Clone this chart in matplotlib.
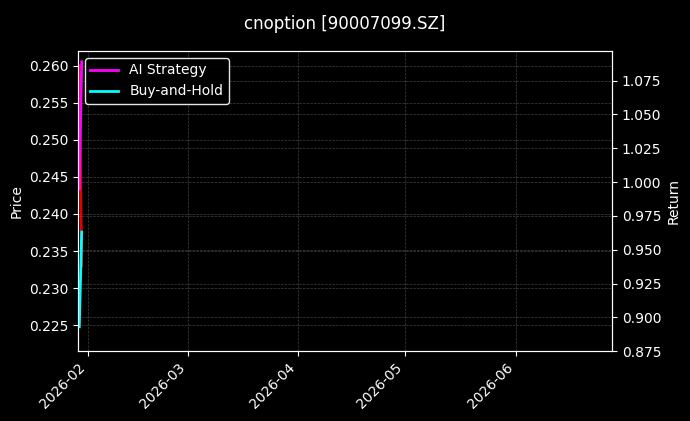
import matplotlib
matplotlib.use("Agg")
import matplotlib.pyplot as plt
import matplotlib.dates as mdates
import matplotlib.ticker as mticker
import pandas as pd

dates = pd.to_datetime(["2026-01-29 14:00", "2026-01-30 06:00"])
price = [0.2600, 0.2330]
ai_strategy = [0.995, 1.089]
buy_hold = [0.893, 0.963]
x_start = pd.Timestamp("2026-01-29 05:00")
x_end = pd.Timestamp("2026-06-28 00:00")
title = "cnoption [90007099.SZ]"

plt.style.use("dark_background")
fig = plt.figure(figsize=(6.9, 4.21), dpi=100)
ax1 = fig.add_axes([0.113, 0.166, 0.774, 0.713])
ax2 = ax1.twinx()

ax1.plot(dates, price, color="red", lw=2, alpha=0.9)
ax2.plot(dates, ai_strategy, color="magenta", lw=2, label="AI Strategy")
ax2.plot(dates, buy_hold, color="cyan", lw=2, label="Buy-and-Hold")

ax1.set_xlim(x_start, x_end)
ax1.set_ylim(0.2215, 0.262)
ax2.set_ylim(0.875, 1.097)
ax1.set_yticks([0.225, 0.230, 0.235, 0.240, 0.245, 0.250, 0.255, 0.260])
ax2.set_yticks([0.875, 0.900, 0.925, 0.950, 0.975, 1.000, 1.025, 1.050, 1.075])
ax1.yaxis.set_major_formatter(mticker.FormatStrFormatter("%.3f"))
ax2.yaxis.set_major_formatter(mticker.FormatStrFormatter("%.3f"))
ax1.xaxis.set_major_locator(mdates.MonthLocator())
ax1.xaxis.set_major_formatter(mdates.DateFormatter("%Y-%m"))
plt.setp(ax1.get_xticklabels(), rotation=45, ha="right")

ax1.set_ylabel("Price")
ax2.set_ylabel("Return")
ax1.grid(True, color="gray", linestyle="--", linewidth=0.5, alpha=0.5)
ax2.grid(True, color="gray", linestyle="--", linewidth=0.5, alpha=0.5)

leg = ax2.legend(loc="upper left", facecolor="black", edgecolor="white", framealpha=0.9)
fig.suptitle(title, fontsize=12, y=0.965)

fig.savefig("out.png", dpi=100, facecolor="black")
